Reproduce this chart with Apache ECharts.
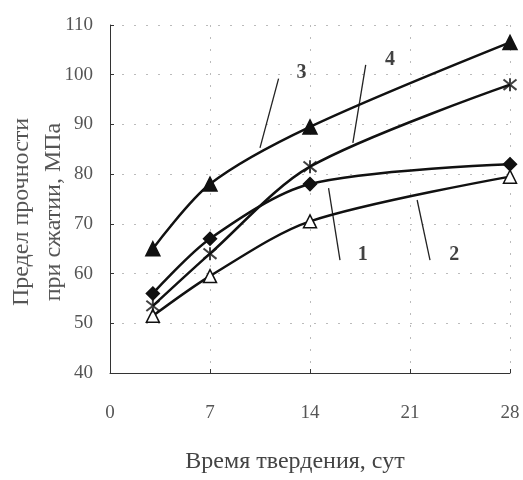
<!DOCTYPE html>
<html><head><meta charset="utf-8">
<script src="https://cdn.jsdelivr.net/npm/echarts@6/dist/echarts.min.js"></script>
<style>html,body{margin:0;padding:0;background:#fff}#c{width:523px;height:480px}</style>
</head><body><div id="c"></div>
<script>
const days = [3, 7, 14, 28];
const s1 = [56, 67, 78, 82];      // filled diamond
const s2 = [51.5, 59.5, 70.5, 79.5]; // open triangle
const s3 = [65, 78, 89.5, 106.5];  // filled triangle
const s4 = [53.5, 64, 81.5, 98];   // cross
const xTicks = [0, 7, 14, 21, 28];
const yTicks = [40, 50, 60, 70, 80, 90, 100, 110];
const curveLabels = ['1', '2', '3', '4'];
const labelPos = [[17.7, 63.7], [24.1, 63.7], [13.4, 100.4], [19.6, 103]];
const leaders = [
  [[16.1, 62.7], [15.3, 77.2]],
  [[22.4, 62.7], [21.5, 74.8]],
  [[11.8, 99.2], [10.5, 85.3]],
  [[17.9, 102], [17.0, 86.3]]
];
const xName = 'Время твердения, сут';
const yName = 'Предел прочности\nпри сжатии, МПа';

const font = '"Liberation Serif","DejaVu Serif",serif';
function ser(data, symbol, fill, size) {
  return {
    type: 'line', smooth: 0.3, data: days.map((d, i) => [d, data[i]]),
    symbol: symbol, symbolSize: size,
    lineStyle: {color: '#111', width: 2.5},
    itemStyle: {color: fill, borderColor: '#111', borderWidth: 1.5},
    z: 3
  };
}
const series = [
  ser(s1, 'diamond', '#111', 13),
  ser(s2, 'triangle', '#fff', 13),
  ser(s3, 'triangle', '#111', 14),
  {
    type: 'line', smooth: 0.3, data: days.map((d, i) => [d, s4[i]]),
    symbol: 'emptyCircle', symbolSize: 0,
    lineStyle: {color: '#111', width: 2.5}, z: 3
  },
  {
    type: 'scatter', data: days.map((d, i) => [d, s4[i]]),
    symbol: 'path://M1,1L9,9M9,1L1,9M5,0L5,10', symbolSize: 13,
    itemStyle: {color: 'none', borderColor: '#111', borderWidth: 2}, z: 4
  }
];
leaders.forEach(seg => series.push({
  type: 'line', data: seg, symbol: 'none', silent: true,
  lineStyle: {color: '#222', width: 1.3}, z: 2
}));
series.push({
  type: 'scatter', symbolSize: 0,
  data: labelPos.map((p, i) => ({value: p, name: curveLabels[i]})),
  label: {show: true, position: 'inside', formatter: '{b}', color: '#111',
    fontFamily: font, fontWeight: 'bold', fontSize: 20}
});

const chart = echarts.init(document.getElementById('c'));
chart.setOption({
  animation: false,
  backgroundColor: '#fff',
  grid: {left: 110, right: 13, top: 25, bottom: 107, containLabel: false, outerBoundsMode: 'none'},
  xAxis: {
    type: 'value', min: 0, max: 28, interval: 7,
    name: xName, nameLocation: 'middle', nameGap: 77, nameMoveOverlap: false,
    nameTextStyle: {fontFamily: font, fontSize: 24, color: '#444', padding: [0, 30, 0, 0]},
    axisLine: {lineStyle: {color: '#333', width: 1}},
    axisTick: {inside: true, length: 4, lineStyle: {color: '#333'}},
    axisLabel: {fontFamily: font, fontSize: 19, color: '#555', margin: 31},
    splitLine: {show: true, lineStyle: {color: '#bbb', type: [2, 10], width: 1}}
  },
  yAxis: {
    type: 'value', min: 40, max: 110, interval: 10,
    name: yName, nameLocation: 'middle', nameGap: 40, nameRotate: 90, nameMoveOverlap: false,
    nameTextStyle: {fontFamily: font, fontSize: 24, color: '#555', lineHeight: 32, padding: [0, 26, 0, 0]},
    axisLine: {show: true, lineStyle: {color: '#333', width: 1}},
    axisTick: {show: true, inside: true, length: 4, lineStyle: {color: '#333'}},
    axisLabel: {fontFamily: font, fontSize: 19, color: '#555', margin: 17},
    splitLine: {show: true, lineStyle: {color: '#bbb', type: [2, 10], width: 1}}
  },
  series: series
});
</script></body></html>
